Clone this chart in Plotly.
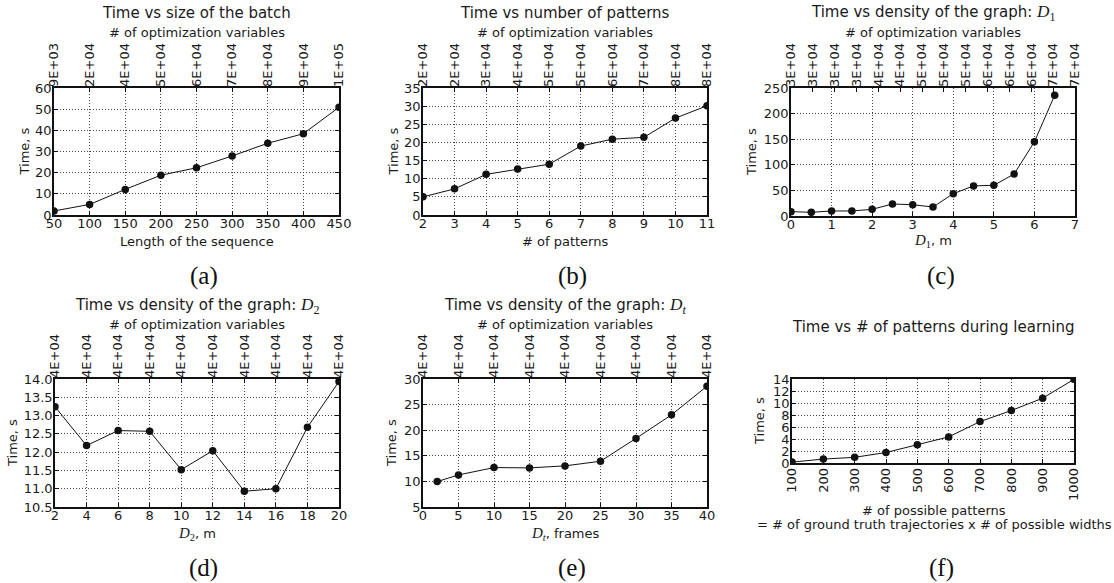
import plotly.graph_objects as go

W, H = 1114, 583

# ---------------- data ----------------
a_x = [50, 100, 150, 200, 250, 300, 350, 400, 450]
a_y = [1.9, 5.0, 12.1, 18.8, 22.3, 27.9, 33.9, 38.4, 50.9]
a_top = ["9E+03", "2E+04", "4E+04", "5E+04", "6E+04", "7E+04", "8E+04", "9E+04", "1E+05"]

b_x = [2, 3, 4, 5, 6, 7, 8, 9, 10, 11]
b_y = [5.0, 7.2, 11.2, 12.7, 14.0, 19.0, 20.9, 21.4, 26.7, 30.1]
b_top = ["2E+04", "2E+04", "3E+04", "4E+04", "5E+04", "5E+04", "6E+04", "7E+04", "8E+04", "8E+04"]

c_x = [0, 0.5, 1, 1.5, 2, 2.5, 3, 3.5, 4, 4.5, 5, 5.5, 6, 6.5]
c_y = [8.5, 7.2, 9.8, 9.8, 13, 23.5, 22, 17.6, 43.7, 58.7, 60, 82, 145, 236]
c_top = ["3E+04", "3E+04", "3E+04", "3E+04", "4E+04", "4E+04", "5E+04", "5E+04",
         "5E+04", "6E+04", "6E+04", "6E+04", "7E+04", "7E+04"]

d_x = [2, 4, 6, 8, 10, 12, 14, 16, 18, 20]
d_y = [13.24, 12.18, 12.59, 12.57, 11.52, 12.04, 10.93, 11.0, 12.68, 13.93]
d_top = ["4E+04"] * 10

e_x = [2, 5, 10, 15, 20, 25, 30, 35, 40]
e_y = [9.96, 11.27, 12.7, 12.64, 13.03, 13.94, 18.4, 23.0, 28.6]
e_top = ["4E+04"] * 9

f_x = [100, 200, 300, 400, 500, 600, 700, 800, 900, 1000]
f_y = [0.15, 0.65, 0.95, 1.75, 3.05, 4.35, 6.9, 8.75, 10.8, 13.95]

SERIF = "Liberation Serif"
SANS = "DejaVu Sans"
TXT = "#1a1a1a"


def m(sym, sub, italic_sub=False):
    s = "<i>%s</i>" % sub if italic_sub else sub
    return ("<span style='font-family:%s;font-size:1.15em'><i>%s</i><sub>%s</sub></span>"
            % (SERIF, sym, s))


# panel layout in pixels: (left, right, top, bottom)
panels = [
    dict(x=a_x, y=a_y, top=a_top, topvals=a_x, box=(54, 339, 88, 215),
         xr=[50, 450], xt=list(range(50, 451, 50)), yr=[0, 60], yt=list(range(0, 61, 10)),
         title="Time vs size of the batch", xtitle=["Length of the sequence"],
         label="(a)", yfmt=None, xangle=0),
    dict(x=b_x, y=b_y, top=b_top, topvals=b_x, box=(423, 707, 88, 215),
         xr=[2, 11], xt=list(range(2, 12)), yr=[0, 35], yt=list(range(0, 36, 5)),
         title="Time vs number of patterns", xtitle=["# of patterns"],
         label="(b)", yfmt=None, xangle=0),
    dict(x=c_x, y=c_y, top=c_top, topvals=[i * 7 / 13 for i in range(14)], box=(791, 1075, 88, 216),
         xr=[0, 7], xt=list(range(0, 8)), yr=[0, 250], yt=list(range(0, 251, 50)),
         title="Time vs density of the graph: " + m("D", "1"), xtitle=[m("D", "1") + ", m"],
         label="(c)", yfmt=None, xangle=0),
    dict(x=d_x, y=d_y, top=d_top, topvals=d_x, box=(55, 339, 379, 507),
         xr=[2, 20], xt=list(range(2, 21, 2)), yr=[10.5, 14.0],
         yt=[10.5, 11.0, 11.5, 12.0, 12.5, 13.0, 13.5, 14.0],
         title="Time vs density of the graph: " + m("D", "2"), xtitle=[m("D", "2") + ", m"],
         label="(d)", yfmt=".1f", xangle=0),
    dict(x=e_x, y=e_y, top=e_top, topvals=list(range(0, 41, 5)), box=(423, 707, 379, 507),
         xr=[0, 40], xt=list(range(0, 41, 5)), yr=[5, 30], yt=list(range(5, 31, 5)),
         title="Time vs density of the graph: " + m("D", "t", True),
         xtitle=[m("D", "t", True) + ", frames"],
         label="(e)", yfmt=None, xangle=0),
    dict(x=f_x, y=f_y, top=None, topvals=None, box=(792, 1074, 379, 463),
         xr=[100, 1000], xt=list(range(100, 1001, 100)), yr=[0, 14], yt=list(range(0, 15, 2)),
         title="Time vs # of patterns during learning",
         xtitle=["# of possible patterns",
                 "= # of ground truth trajectories x # of possible widths"],
         label="(f)", yfmt=None, xangle=-90),
]

title_y = [13, 13, 13, 306, 306, 327]
toptitle_y = [33, 33, 33, 324, 324, None]
xtitle_y = [[241], [241], [241], [534], [534], [510, 524]]
ytitle_x = [24, 393, 751, 12, 391, 759]
label_xy = [(204, 276), (572, 276), (941, 276), (203, 568), (572, 568), (941, 568)]

FS = 13
fig = go.Figure()
layout = dict(template="none", width=W, height=H, margin=dict(l=0, r=0, t=0, b=0, pad=0),
              paper_bgcolor="white", plot_bgcolor="white", showlegend=False,
              font=dict(family=SANS, size=FS, color=TXT))
annotations = []

grid = dict(showgrid=True, gridcolor="#444", griddash="1px,2px", gridwidth=1)

for i, p in enumerate(panels):
    n = i + 1
    L, R, T, B = p["box"]
    xd = [L / W, R / W]
    yd = [1 - B / H, 1 - T / H]
    xa = "x" if n == 1 else "x%d" % n
    ya = "y" if n == 1 else "y%d" % n
    fig.add_trace(go.Scatter(x=p["x"], y=p["y"], mode="lines+markers", xaxis=xa, yaxis=ya,
                             line=dict(color="#111", width=1),
                             marker=dict(color="#111", size=7.5), hoverinfo="skip"))
    layout["xaxis" + ("" if n == 1 else str(n))] = dict(
        domain=xd, anchor=ya, range=p["xr"], tickmode="array", tickvals=p["xt"],
        ticks="inside", ticklen=4, tickwidth=1, tickcolor="#111", automargin=False,
        showline=True, linecolor="#111", linewidth=1.5, mirror=True,
        zeroline=False, tickangle=p["xangle"], tickfont=dict(size=FS, family=SANS, color=TXT),
        ticklabelstandoff=(-2 if i == 5 else -4), **grid)
    layout["yaxis" + ("" if n == 1 else str(n))] = dict(
        domain=yd, anchor=xa, range=p["yr"], tickmode="array", tickvals=p["yt"],
        ticks="inside", ticklen=4, tickwidth=1, tickcolor="#111", automargin=False,
        showline=True, linecolor="#111", linewidth=1.5, mirror="ticks",
        zeroline=False, tickformat=p["yfmt"] if p["yfmt"] else "",
        tickfont=dict(size=FS, family=SANS, color=TXT), ticklabelstandoff=-2, **grid)
    if p["top"] is not None:
        tn = n + 6
        txa = "x%d" % tn
        fig.add_trace(go.Scatter(x=p["x"], y=p["y"], mode="none", xaxis=txa, yaxis=ya,
                                 hoverinfo="skip", showlegend=False))
        layout["xaxis%d" % tn] = dict(
            domain=xd, anchor=ya, overlaying=xa, side="top", range=p["xr"],
            tickmode="array", tickvals=p["topvals"], ticktext=p["top"], tickangle=-90,
            ticks="inside", ticklen=4, tickwidth=1, tickcolor="#111", automargin=False,
            showline=False, showgrid=False, zeroline=False,
            tickfont=dict(size=FS, family=SANS, color=TXT), ticklabelstandoff=0)
        annotations.append(dict(text="# of optimization variables", x=(L + R) / 2 / W,
                                y=1 - toptitle_y[i] / H, xref="paper", yref="paper",
                                showarrow=False, font=dict(size=FS, family=SANS, color=TXT),
                                xanchor="center", yanchor="middle"))
    annotations.append(dict(text=p["title"], x=(L + R) / 2 / W, y=1 - title_y[i] / H,
                            xref="paper", yref="paper", showarrow=False,
                            font=dict(size=15, family=SANS, color=TXT),
                            xanchor="center", yanchor="middle"))
    for line, ly_ in zip(p["xtitle"], xtitle_y[i]):
        annotations.append(dict(text=line, x=(L + R) / 2 / W + (0.001 if i == 5 else 0),
                                y=1 - ly_ / H, xref="paper", yref="paper", showarrow=False,
                                font=dict(size=FS, family=SANS, color=TXT),
                                xanchor="center", yanchor="middle"))
    annotations.append(dict(text="Time, s", x=ytitle_x[i] / W, y=1 - (T + B) / 2 / H,
                            xref="paper", yref="paper", showarrow=False, textangle=-90,
                            font=dict(size=FS, family=SANS, color=TXT),
                            xanchor="center", yanchor="middle"))
    lx, ly = label_xy[i]
    annotations.append(dict(text=p["label"], x=lx / W, y=1 - ly / H, xref="paper", yref="paper",
                            showarrow=False, font=dict(size=25, family=SERIF, color="#111"),
                            xanchor="center", yanchor="middle"))

layout["annotations"] = annotations
fig.update_layout(**layout)
fig.write_html("out.html", config={"displayModeBar": False},
               post_script="document.body.style.margin='0px';")
